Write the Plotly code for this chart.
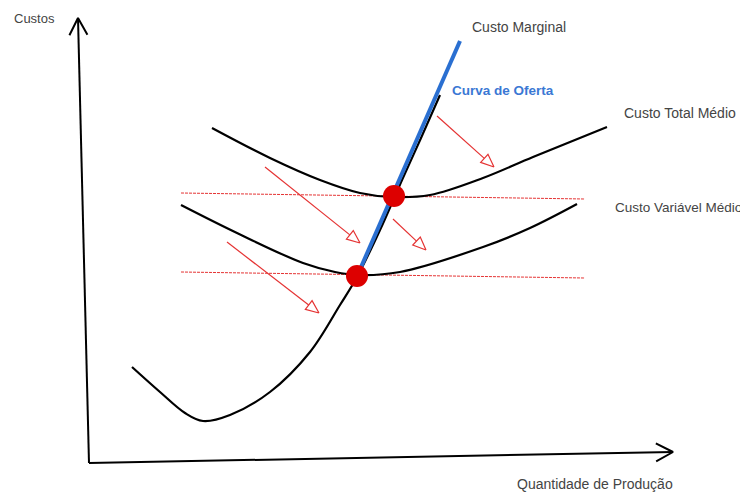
import numpy as np
import plotly.graph_objects as go

# Diagram coordinates (pixel-like space: x right, y down)
mc_x = [132, 160, 185, 203, 230, 270, 310, 340, 357, 380, 402, 421, 440]
mc_y = [367, 392, 413, 421, 415, 392, 352, 305, 277, 230, 180, 138, 95]

ctm_x = [212, 270, 320, 360, 392, 430, 483, 533, 607]
ctm_y = [128, 158, 180, 193, 197, 195, 178, 157, 127]

cvm_x = [181, 237, 303, 335, 357, 400, 483, 530, 577]
cvm_y = [205, 233, 263, 272, 275, 272, 247, 228, 204]

supply_x = [358, 460]
supply_y = [274, 41]

eq_x = [357, 394]
eq_y = [276, 196]

dash_x0 = [181, 181]
dash_y0 = [193, 272]
dash_x1 = [585, 585]
dash_y1 = [199, 278]

arr_x0 = [265, 227, 393, 437]
arr_y0 = [167, 242, 219, 116]
arr_x1 = [360, 319, 426, 494]
arr_y1 = [243, 313, 250, 167]

yaxis_pts = ([89, 78], [463, 18])
xaxis_pts = ([89, 673], [463, 452])

labels = ["Custos", "Custo Marginal", "Curva de Oferta", "Custo Total Médio",
          "Custo Variável Médio", "Quantidade de Produção"]
lab_x = [12, 470, 450, 622, 613, 515]
lab_y = [18, 27, 90, 113, 207, 484]
lab_size = [13, 14, 13.5, 14, 13.5, 14]

fig = go.Figure()

# dashed reference lines
for a, b, c, d in zip(dash_x0, dash_y0, dash_x1, dash_y1):
    fig.add_trace(go.Scatter(x=[a, c], y=[b, d], mode="lines",
                             line=dict(color="#e53333", width=1, dash="3px,1px"),
                             hoverinfo="skip"))

# axes
fig.add_trace(go.Scatter(x=yaxis_pts[0], y=yaxis_pts[1], mode="lines",
                         line=dict(color="black", width=2), hoverinfo="skip"))
fig.add_trace(go.Scatter(x=xaxis_pts[0], y=xaxis_pts[1], mode="lines",
                         line=dict(color="black", width=2), hoverinfo="skip"))


def chevron(p0, p1, length=17, half=9):
    x0, y0 = p0
    x1, y1 = p1
    d = np.array([x1 - x0, y1 - y0], float)
    d /= np.hypot(*d)
    n = np.array([-d[1], d[0]])
    base = np.array([x1, y1]) - d * length
    a = base + n * half
    b = base - n * half
    return [a[0], x1, b[0]], [a[1], y1, b[1]]


for pts in (yaxis_pts, xaxis_pts):
    cx, cy = chevron((pts[0][0], pts[1][0]), (pts[0][1], pts[1][1]))
    fig.add_trace(go.Scatter(x=cx, y=cy, mode="lines",
                             line=dict(color="black", width=2), hoverinfo="skip"))

# curves
for xs, ys in ((mc_x, mc_y), (ctm_x, ctm_y), (cvm_x, cvm_y)):
    fig.add_trace(go.Scatter(x=xs, y=ys, mode="lines",
                             line=dict(color="black", width=2.2, shape="spline", smoothing=1.0),
                             hoverinfo="skip"))

# supply curve
fig.add_trace(go.Scatter(x=supply_x, y=supply_y, mode="lines",
                         line=dict(color="#2a6fd1", width=4), hoverinfo="skip"))

# red arrows (thin shaft, hollow triangle head)
for a, b, c, d in zip(arr_x0, arr_y0, arr_x1, arr_y1):
    v = np.array([c - a, d - b], float)
    v /= np.hypot(*v)
    n = np.array([-v[1], v[0]])
    tip = np.array([c, d], float)
    base = tip - v * 13
    p1 = base + n * 5.5
    p2 = base - n * 5.5
    fig.add_trace(go.Scatter(x=[a, base[0]], y=[b, base[1]], mode="lines",
                             line=dict(color="#e53333", width=1.2), hoverinfo="skip"))
    fig.add_trace(go.Scatter(x=[tip[0], p1[0], p2[0], tip[0]], y=[tip[1], p1[1], p2[1], tip[1]],
                             mode="lines", fill="toself", fillcolor="white",
                             line=dict(color="#e53333", width=1.2), hoverinfo="skip"))

# equilibrium points
fig.add_trace(go.Scatter(x=eq_x, y=eq_y, mode="markers",
                         marker=dict(color="#dd0000", size=22, line=dict(width=0)),
                         hoverinfo="skip"))

for t, x, y, s in zip(labels, lab_x, lab_y, lab_size):
    if t == "Curva de Oferta":
        f = dict(family="Liberation Sans, Arial", size=s, color="#3a78d4")
        t = "<b>" + t + "</b>"
    else:
        f = dict(family="Liberation Sans, Arial", size=s, color="#444444")
    fig.add_annotation(x=x, y=y, text=t, showarrow=False, xanchor="left",
                       yanchor="middle", font=f)

# page body has an 8px margin: figure covers page pixels 8..748 / 8..492
fig.update_layout(
    width=740, height=484, margin=dict(l=0, r=0, t=0, b=0),
    plot_bgcolor="white", paper_bgcolor="white", showlegend=False,
    xaxis=dict(range=[8, 748], visible=False, fixedrange=True),
    yaxis=dict(range=[492, 8], visible=False, fixedrange=True),
)

fig.write_html("out.html")
